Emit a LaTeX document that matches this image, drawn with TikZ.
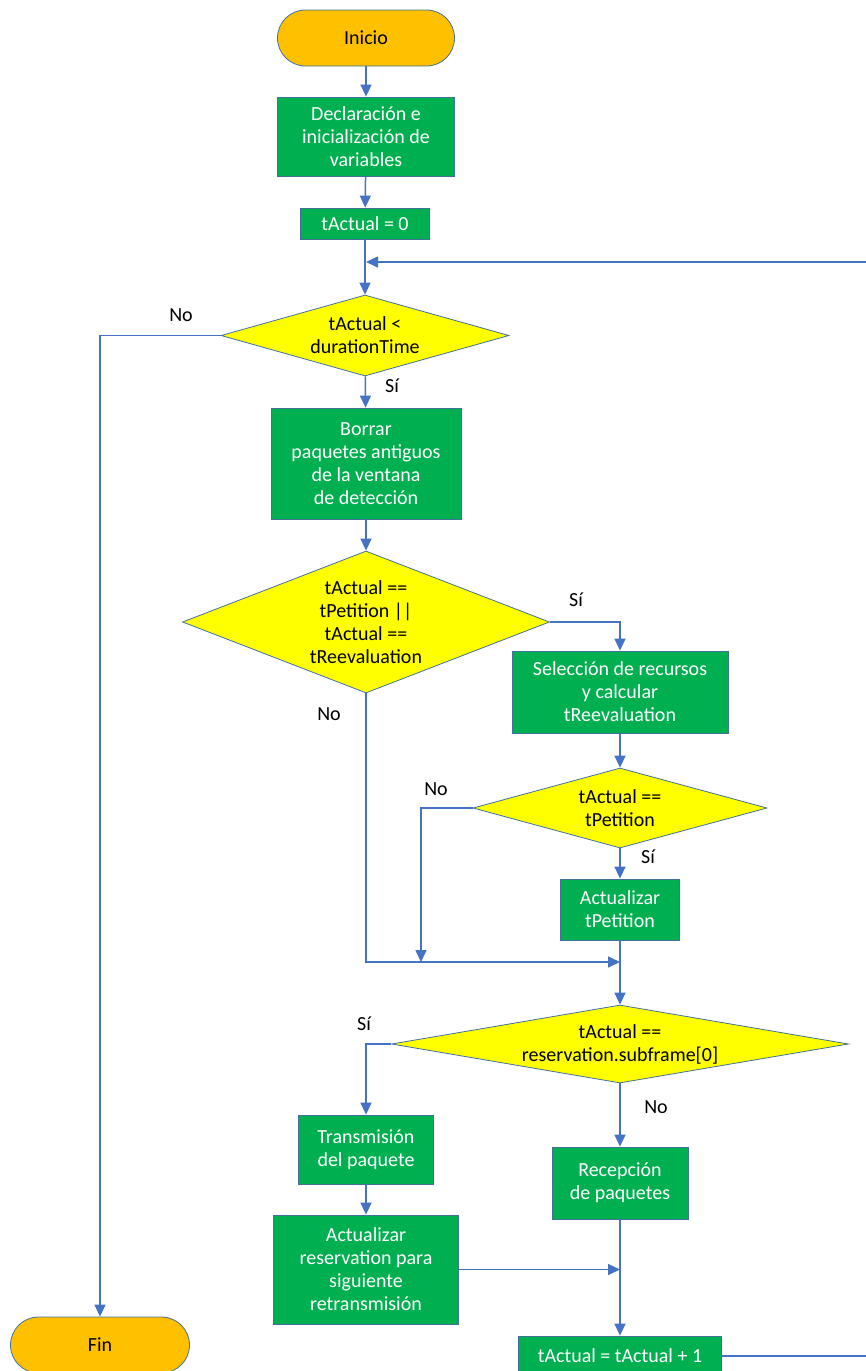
\documentclass[tikz,border=0pt]{standalone}
\usepackage{fontspec}
\setmainfont{Carlito}
\usetikzlibrary{shapes.geometric,arrows.meta}
\definecolor{boxgreen}{HTML}{00B050}
\definecolor{condyellow}{HTML}{FFFF00}
\definecolor{termorange}{HTML}{FFC000}
\definecolor{edgeblue}{HTML}{41719C}
\definecolor{flowblue}{HTML}{4472C4}
\begin{document}
\begin{tikzpicture}[x=1pt,y=-1pt,
  every node/.style={font=\fontsize{20}{23}\selectfont, align=center, inner sep=0pt},
  terminal/.style={draw=edgeblue, line width=0.8pt, fill=termorange, rounded corners=28pt, minimum width=#1, minimum height=56pt},
  process/.style={draw=edgeblue, line width=0.8pt, fill=boxgreen, text=white},
  decision/.style={draw=edgeblue, line width=0.8pt, fill=condyellow, diamond, aspect=#1},
  flow/.style={draw=flowblue, line width=1.5pt, -{Triangle[length=12pt,width=11pt]}},
  lbl/.style={text=black}]
\useasboundingbox (0,0) rectangle (866,1371);
\clip (0,0) rectangle (866,1371);

% blocks
\node[terminal=177pt] (start) at (366,38) {Inicio};
\node[process, minimum width=177pt, minimum height=79pt] (decl) at (366,136.5) {Declaración e\\inicialización de\\variables};
\node[process, minimum width=129pt, minimum height=31pt] (t0) at (365,223.5) {tActual = 0};
\node[decision=3.56, minimum width=288pt, minimum height=81pt] (d1) at (365,335.5) {tActual <\\durationTime};
\node[process, minimum width=190pt, minimum height=111pt] (borrar) at (366,463.5) {Borrar\\paquetes antiguos\\de la ventana\\de detección};
\node[decision=2.58, minimum width=367pt, minimum height=142pt] (d2) at (366,622) {tActual ==\\tPetition ||\\tActual ==\\tReevaluation};
\node[process, minimum width=216pt, minimum height=82pt] (sel) at (620,692) {Selección de recursos\\y calcular\\tReevaluation};
\node[decision=3.67, minimum width=294pt, minimum height=80pt] (d3) at (620,808) {tActual ==\\tPetition};
\node[process, minimum width=119pt, minimum height=61pt] (upd) at (620,909.5) {Actualizar\\tPetition};
\node[decision=5.86, minimum width=457pt, minimum height=78pt] (d4) at (620,1044) {tActual ==\\reservation.subframe[0]};
\node[process, minimum width=135pt, minimum height=69pt] (trans) at (366,1149.5) {Transmisión\\del paquete};
\node[process, minimum width=185pt, minimum height=109pt] (res) at (366,1269.5) {Actualizar\\reservation para\\siguiente\\retransmisión};
\node[process, minimum width=136pt, minimum height=72pt] (rec) at (620,1183) {Recepción\\de paquetes};
\node[process, minimum width=203pt, minimum height=40pt] (inc) at (620,1356) {tActual = tActual + 1};
\node[terminal=179pt] (fin) at (100,1345) {Fin};

% junction points
\coordinate (loopin) at (366,262);
\coordinate (j1) at (620,962);
\coordinate (j2) at (421,962);
\coordinate (j3) at (620,1269.5);

% connectors
\draw[flow] (start) -- (decl);
\draw[flow] (decl) -- (t0);
\draw[flow] (t0) -- (d1);
\draw[flow] (inc.east) -- (900,1356) -- (900,262) -- (loopin);
\draw[flow] (d1.west) -| (fin.north);
\draw[flow] (d1) -- (borrar);
\draw[flow] (borrar) -- (d2);
\draw[flow] (d2.east) -| (sel.north);
\draw[flow] (sel) -- (d3);
\draw[flow] (d3) -- (upd);
\draw[flow] (d3.west) -| (j2);
\draw[flow] (d2.south) |- (j1);
\draw[flow] (upd) -- (d4);
\draw[flow] (d4.west) -| (trans.north);
\draw[flow] (d4) -- (rec);
\draw[flow] (trans) -- (res);
\draw[flow] (res.east) -- (j3);
\draw[flow] (rec) -- (inc);

% branch labels
\node[lbl] at (181,315) {No};
\node[lbl] at (392,386) {Sí};
\node[lbl] at (576,600) {Sí};
\node[lbl] at (329,714) {No};
\node[lbl] at (436,789) {No};
\node[lbl] at (648,857) {Sí};
\node[lbl] at (364,1024) {Sí};
\node[lbl] at (656,1107) {No};
\end{tikzpicture}
\end{document}
